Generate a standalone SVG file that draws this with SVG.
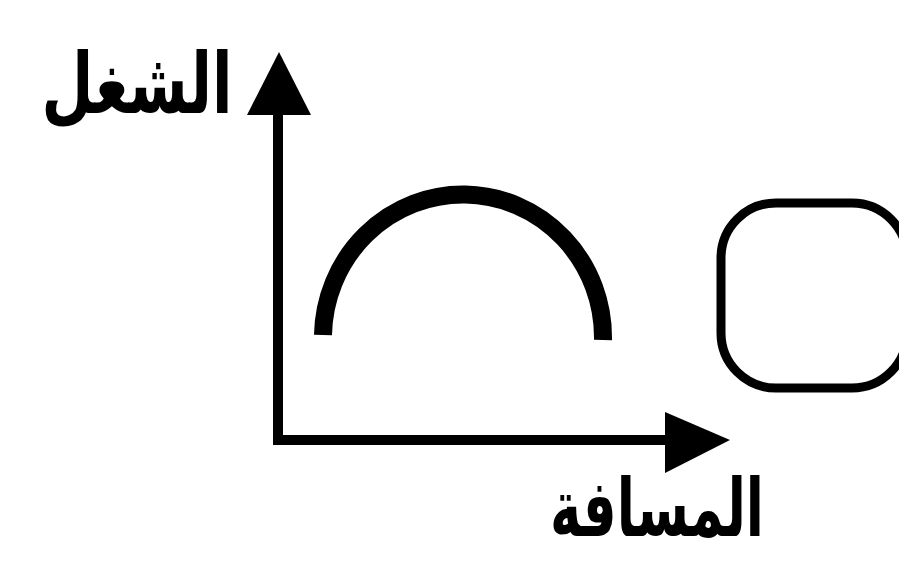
<svg xmlns="http://www.w3.org/2000/svg" width="899" height="564" viewBox="0 0 899 564">
<style>
.ax{stroke:#000;stroke-width:10;fill:none}
.head{fill:#000}
.lbl{font-family:"DejaVu Sans",sans-serif;font-weight:bold;fill:#000}
</style>
<rect width="899" height="564" fill="#fff"/>
<g id="connectors">
<path class="ax" d="M278,112 L278,440 L668,440"/>
<polygon class="head" points="279,52 247,115 311,115"/>
<polygon class="head" points="730,440 665,412 665,473"/>
</g>
<g id="arc">
<path d="M323,335 A140,143 0 0 1 603,340" stroke="#000" stroke-width="18" fill="none"/>
</g>
<g id="rounded-box">
<rect x="721" y="203" width="186" height="185" rx="55" ry="55" stroke="#000" stroke-width="9" fill="none"/>
</g>
<g id="label-work">
<text class="lbl" x="137" y="113" font-size="84" text-anchor="middle" direction="rtl" textLength="191" lengthAdjust="spacingAndGlyphs">الشغل</text>
</g>
<g id="label-distance">
<text class="lbl" x="657" y="536" font-size="80" text-anchor="middle" direction="rtl" textLength="214" lengthAdjust="spacingAndGlyphs">المسافة</text>
</g>
</svg>
